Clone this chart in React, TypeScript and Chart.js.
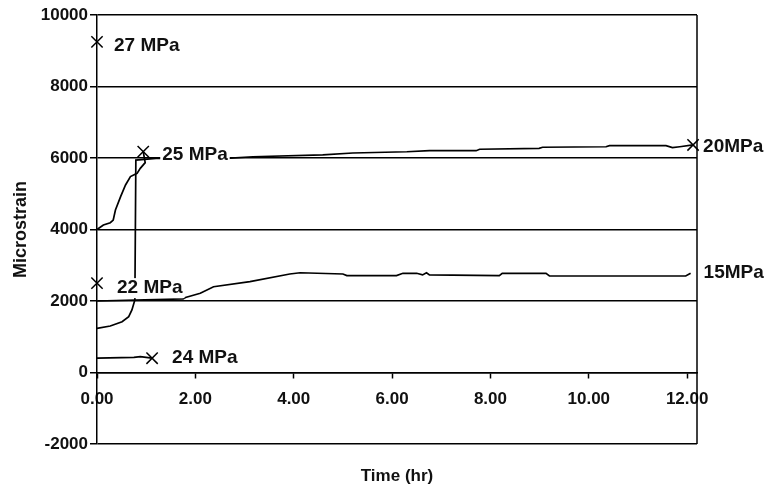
import React, { useEffect, useRef } from 'react';
import { Chart, registerables } from 'chart.js';

Chart.register(...registerables);

// ---- data (time in hours, microstrain) ----
const seriesLabels = ['25 MPa', '20MPa', '15MPa', '24 MPa', '27 MPa', '22 MPa'];

const time25 = [0, 0.13, 0.27, 0.33, 0.375, 0.48, 0.58, 0.68, 0.815, 0.88, 0.98, 0.94];
const strain25 = [4000, 4125, 4190, 4265, 4545, 4920, 5245, 5480, 5570, 5710, 5870, 6180];

const time20 = [0, 0.27, 0.51, 0.645, 0.71, 0.77, 0.79, 1.2, 2.64, 3.17, 4.59, 5.2, 6.3, 6.76, 7.71, 7.78, 8.99, 9.06, 10.35, 10.42, 11.57, 11.7, 11.85, 12.12];
const strain20 = [1235, 1300, 1420, 1560, 1750, 2030, 5940, 5990, 5990, 6035, 6085, 6140, 6175, 6205, 6205, 6245, 6270, 6300, 6315, 6345, 6345, 6290, 6315, 6365];

const time15 = [0, 1.75, 1.8, 2.1, 2.37, 3.11, 3.92, 4.13, 5.0, 5.08, 6.09, 6.22, 6.5, 6.62, 6.7, 6.76, 8.18, 8.24, 9.13, 9.2, 11.97, 12.07];
const strain15 = [2000, 2060, 2100, 2215, 2400, 2540, 2755, 2790, 2755, 2710, 2710, 2775, 2775, 2730, 2790, 2730, 2710, 2775, 2775, 2700, 2700, 2775];

const time24 = [0, 0.75, 0.88, 1.12];
const strain24 = [400, 425, 445, 400];

const time27 = [0];
const strain27 = [9250];

const time22 = [0];
const strain22 = [2500];

const seriesTimes = [time25, time20, time15, time24, time27, time22];
const seriesStrains = [strain25, strain20, strain15, strain24, strain27, strain22];
const seriesHasEndMarker = [true, true, false, true, true, true];

const xTickStep = 2;
const xMin = 0;
const xMax = 12.2;
const yMin = -2000;
const yMax = 10000;
const yTickStep = 2000;

// label offsets (pixels) relative to the end point of each series
const labelOffsetX = [19, 10, 13, 20, 17, 20];
const labelOffsetY = [3, 2, -1, 0, 4, 5];

const FONT = '"Liberation Sans", Arial, Helvetica, sans-serif';

const labelPlugin = {
  id: 'endLabels',
  afterDatasetsDraw(chart: any) {
    const { ctx, chartArea, scales } = chart;
    ctx.save();
    ctx.strokeStyle = '#000';
    ctx.lineWidth = 1.5;
    ctx.beginPath();
    ctx.moveTo(chartArea.right, chartArea.top);
    ctx.lineTo(chartArea.right, chartArea.bottom);
    ctx.stroke();

    ctx.font = `bold 19px ${FONT}`;
    ctx.textBaseline = 'middle';
    ctx.textAlign = 'left';
    seriesLabels.forEach((text, i) => {
      const ts = seriesTimes[i];
      const ss = seriesStrains[i];
      const px = scales.x.getPixelForValue(ts[ts.length - 1]) + labelOffsetX[i];
      const py = scales.y.getPixelForValue(ss[ss.length - 1]) + labelOffsetY[i];
      const w = ctx.measureText(text).width;
      ctx.fillStyle = '#fff';
      ctx.fillRect(px - 2, py - 10, w + 4, 20);
      ctx.fillStyle = '#111';
      ctx.fillText(text, px, py);
    });
    ctx.restore();
  },
};

export default function App() {
  const canvasRef = useRef<HTMLCanvasElement | null>(null);

  useEffect(() => {
    if (!canvasRef.current) return;
    const datasets = seriesLabels.map((label, i) => {
      const ts = seriesTimes[i];
      const ss = seriesStrains[i];
      const last = ts.length - 1;
      return {
        label,
        data: ts.map((t, j) => ({ x: t, y: ss[j] })),
        borderColor: '#000',
        backgroundColor: '#000',
        borderWidth: 1.7,
        fill: false,
        tension: 0,
        clip: false as any,
        pointStyle: 'crossRot' as const,
        pointRadius: (c: any) => (seriesHasEndMarker[i] && c.dataIndex === last ? 8 : 0),
        pointBorderWidth: 1.5,
        pointBorderColor: '#000',
        pointHoverRadius: 0,
      };
    });

    const chart = new Chart(canvasRef.current, {
      type: 'line',
      data: { datasets },
      plugins: [labelPlugin],
      options: {
        animation: false,
        responsive: true,
        maintainAspectRatio: false,
        layout: { padding: { top: 15, right: 79, left: 0, bottom: 0 } },
        plugins: {
          legend: { display: false },
          tooltip: { enabled: false },
          title: {
            display: true,
            position: 'bottom',
            fullSize: false,
            text: 'Time (hr)',
            color: '#111',
            font: { family: FONT, size: 17, weight: 'bold' },
            padding: { top: 22, bottom: 2.6 },
          },
        },
        scales: {
          x: {
            type: 'linear',
            position: { y: 0 } as any,
            min: xMin,
            max: xMax,
            ticks: {
              stepSize: xTickStep,
              includeBounds: false,
              padding: 12,
              color: '#111',
              font: { family: FONT, size: 17, weight: 'bold' },
              callback: (v: any) => Number(v).toFixed(2),
              maxRotation: 0,
            },
            grid: {
              drawOnChartArea: false,
              drawTicks: true,
              tickLength: 5,
              tickColor: '#000',
              tickWidth: 1.5,
            },
            border: { display: true, color: '#000', width: 1.5 },
          },
          y: {
            type: 'linear',
            position: 'left',
            min: yMin,
            max: yMax,
            afterFit: (scale: any) => {
              scale.width = 97;
            },
            ticks: {
              stepSize: yTickStep,
              padding: 2,
              color: '#111',
              font: { family: FONT, size: 17, weight: 'bold' },
              callback: (v: any) => String(v),
            },
            grid: {
              color: '#000',
              lineWidth: 1.5,
              tickLength: 7,
              drawTicks: true,
            },
            border: { display: true, color: '#000', width: 1.5 },
            title: {
              display: true,
              text: 'Microstrain',
              color: '#111',
              font: { family: FONT, size: 18, weight: 'bold' },
              padding: { top: 10, bottom: 0 },
            },
          },
        },
      },
    });
    return () => chart.destroy();
  }, []);

  return (
    <div style={{ position: 'fixed', left: 0, top: 0, width: 776, height: 489, background: '#fff' }}>
      <canvas ref={canvasRef} />
    </div>
  );
}
